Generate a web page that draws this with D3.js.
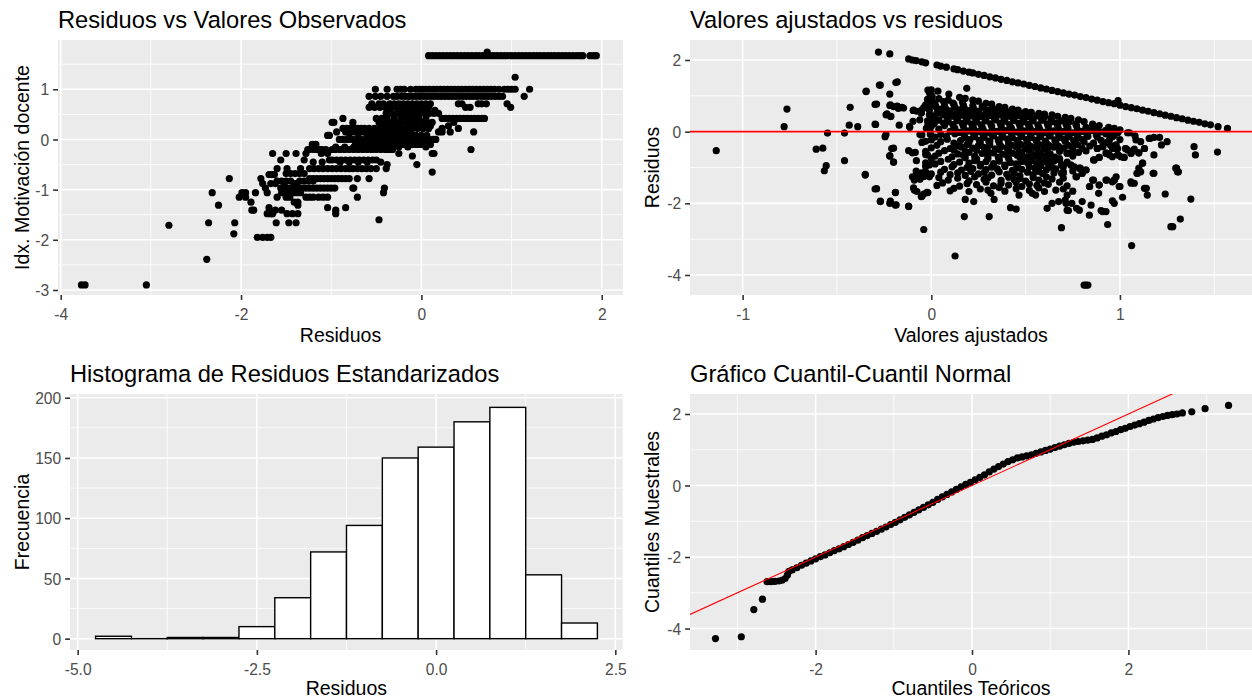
<!DOCTYPE html>
<html>
<head>
<meta charset="utf-8">
<script src="https://cdn.jsdelivr.net/npm/d3@7"></script>
<style>
  body { margin: 0; background: #fff; }
  text { font-family: "Liberation Sans", Arial, sans-serif; }
</style>
</head>
<body>
<div id="chart"></div>
<script>
// ---------- Panel 1: residuos vs valores observados ----------
// observed index levels and the residuals seen on each level
var motivLevels = [1.74, 1.67, 1.24, 1.0, 0.86, 0.71, 0.64, 0.58, 0.52, 0.42, 0.34, 0.27, 0.22, 0.15, 0.08, 0.04, 0.0,
  -0.1, -0.15, -0.2, -0.28, -0.33, -0.41, -0.45, -0.5, -0.58, -0.65, -0.68, -0.7, -0.78, -0.83, -0.88, -0.97, -1.06, -1.15, -1.25,
  -1.31, -1.36, -1.41, -1.48, -1.6, -1.66, -1.71, -1.88, -1.95, -2.39, -2.9];
var residByLevel = [
  [0.73],
  [0.08,0.12,0.16,0.2,0.24,0.28,0.32,0.36,0.4,0.44,0.48,0.52,0.56,0.6,0.64,0.68,0.72,0.76,0.8,0.84,0.88,0.92,0.96,1.0,1.04,1.08,1.12,1.16,1.2,1.24,1.28,1.32,1.36,1.4,1.44,1.48,1.52,1.56,1.6,1.64,1.68,1.72,1.76,1.79,1.87,1.91,1.94],
  [1.04],
  [-0.51,-0.38,-0.27,-0.23,-0.19,-0.12,-0.06,-0.02,0.01,0.05,0.09,0.13,0.17,0.21,0.25,0.29,0.33,0.37,0.41,0.45,0.49,0.53,0.57,0.61,0.65,0.69,0.73,0.77,0.81,0.86,0.92,0.96,1.0,1.04,1.2],
  [-0.58,-0.51,-0.45,-0.38,-0.31,-0.27,-0.22,-0.18,-0.14,-0.1,-0.06,-0.02,0.02,0.06,0.1,0.14,0.18,0.22,0.26,0.3,0.34,0.38,0.42,0.46,0.5,0.54,0.58,0.62,0.66,0.7,0.74,0.78,0.82,0.86,0.9,1.14],
  [-0.55,-0.47,-0.42,-0.35,-0.3,-0.25,-0.2,-0.15,-0.1,-0.05,0.0,0.05,0.1,0.41,0.45,0.63,0.67,0.72,0.95],
  [-0.58,-0.52,-0.46,-0.4,-0.34,-0.28,-0.22,-0.16,-0.1,-0.04,0.02,0.08,0.49,0.54,0.99],
  [-0.35,-0.25,-0.15,-0.05,0.05,0.15],
  [-0.39,-0.33,-0.27,-0.21,-0.16,-0.11,-0.06,-0.01,0.04,0.09,0.14,0.19],
  [-0.87,-0.5,-0.44,-0.38,-0.3,-0.22,-0.16,-0.1,-0.03,0.05,0.23,0.27,0.31,0.35,0.39,0.43,0.47,0.51,0.55,0.59,0.63,0.67,0.7],
  [-0.99,-0.97,-0.76,-0.47,-0.42,-0.36,-0.3,-0.24,-0.18,-0.12,-0.06,0.0,0.06,0.12,0.36],
  [-0.45,-0.35,-0.25,-0.15,-0.05,0.05,0.1,0.3],
  [-0.87,-0.83,-0.79,-0.75,-0.71,-0.67,-0.63,-0.58,-0.52,-0.46,-0.4,-0.34,-0.28,-0.22,-0.16,-0.1,-0.04,0.02,0.08,0.23,0.41],
  [-0.94,-0.84,-0.79,-0.74,-0.69,-0.64,-0.59,-0.54,-0.48,-0.42,-0.36,-0.3,-0.24,-0.18,-0.12,0.19,0.23,0.32,0.58],
  [-1.04,-1.02,-0.6,-0.54,-0.48,-0.42,-0.36,-0.3,-0.24,-0.18,-0.12,-0.06,0.0,0.06],
  [-0.8,-0.7,-0.5,-0.4,-0.2,-0.1],
  [-0.91,-0.87,-0.82,-0.77,-0.72,-0.67,-0.62,-0.57,-0.52,-0.47,-0.42,-0.37,-0.32,-0.27,-0.22,-0.17,-0.12,-0.07,-0.02,0.03,0.08,0.13,0.16],
  [-1.21,-1.17,-0.73,-0.68,-0.63,-0.58,-0.53,-0.48,-0.43,-0.38,-0.33,-0.28,-0.22,-0.18,-0.14,-0.1,-0.06,-0.02,0.02,0.06,0.1],
  [-0.95,-0.85,-0.75,-0.65,-0.55,-0.45,-0.35,-0.25,-0.15,0.05],
  [-1.26,-1.24,-1.19,-1.15,-1.13,-1.1,-1.06,-0.99,-0.95,-0.9,-0.85,-0.8,-0.75,-0.7,-0.65,-0.6,-0.55,-0.5,-0.45,-0.4,-0.36,-0.32,0.55],
  [-1.65,-1.5,-1.39,-1.28,-1.11,-1.04,-0.25,0.12,0.14],
  [-0.1],
  [-1.56,-1.3,-1.02,-0.99,-0.94,-0.89,-0.84,-0.79,-0.74,-0.69,-0.64,-0.59,-0.54,-0.5],
  [-1.2,-1.1,-0.9,-0.8,-0.7,-0.6,-0.45],
  [-0.38,-0.05],
  [-1.6,-1.49,-1.34,-1.24,-1.19,-1.14,-1.09,-1.04,-0.99,-0.94,-0.89,-0.84,-0.8,-0.76,-0.71,-0.66,-0.61,-0.56,-0.5,-0.39],
  [0.12],
  [-1.5,-1.45,-1.4,-1.35,-1.3],
  [-1.69,-1.66,-1.63],
  [-2.13,-1.78,-1.24,-1.2,-1.16,-1.12,-1.08,-1.04,-1.0,-0.96,-0.92,-0.88,-0.84,-0.8,-0.71,-0.58],
  [-1.6,-1.55,-1.5,-1.45,-1.35,-1.3,-1.25,-1.2],
  [-1.76,-1.67,-1.62,-1.52,-1.41,-1.38],
  [-1.73,-1.56,-1.52,-1.48,-1.44,-1.4,-1.36,-1.32,-1.28,-1.24,-1.2,-1.16,-1.12,-1.08,-1.04,-1.0,-0.96,-0.76,-0.75,-0.41],
  [-2.32,-1.99,-1.95,-1.84,-1.71,-1.55,-1.5,-1.45,-1.42,-1.38,-1.34,-0.42],
  [-2.02,-1.95,-1.6,-1.5,-1.46,-1.28,-1.24,-1.2,-1.14,-1.09,-1.04,-0.71],
  [-1.89,-1.41,-1.37],
  [-2.25,-1.37],
  [-1.69,-1.04,-0.84],
  [-1.88,-1.86,-1.62,-1.55,-0.95],
  [-1.71,-1.67,-1.65,-1.49,-1.43,-1.37,-0.95],
  [-0.47],
  [-2.36,-2.07,-1.61,-1.47,-1.39],
  [-2.8],
  [-2.08],
  [-1.82,-1.76,-1.71,-1.67],
  [-2.38],
  [-3.77,-3.73,-3.05]
];

// ---------- Panel 2: valores ajustados vs residuos ----------
// [ajustado, residuo]
var fitTopBand = [[-0.12,2.03],[-0.1,2.0],[-0.08,1.98],[-0.05,1.95],[-0.03,1.92],[0.03,1.86],[0.05,1.83],[0.08,1.8],
  [0.12,1.75],[0.14,1.73],[0.17,1.69],[0.2,1.66],[0.22,1.64],[0.25,1.6],[0.28,1.57],[0.31,1.53],[0.34,1.5],
  [0.37,1.46],[0.4,1.43],[0.43,1.39],[0.46,1.36],[0.49,1.33],[0.52,1.29],[0.55,1.26],[0.58,1.22],[0.61,1.19],
  [0.64,1.15],[0.67,1.12],[0.7,1.08],[0.73,1.05],[0.76,1.02],[0.79,0.98],[0.82,0.95],[0.85,0.91],[0.88,0.88],
  [0.91,0.84],[0.94,0.81],[0.97,0.78],[0.99,0.87],[1.0,0.74],[1.03,0.7],[1.06,0.67],[1.09,0.64],[1.12,0.6],
  [1.15,0.57],[1.18,0.53],[1.21,0.5],[1.24,0.46],[1.27,0.43],[1.3,0.39],[1.33,0.36],[1.36,0.32],[1.39,0.29],
  [1.42,0.26],[1.45,0.22],[1.48,0.19],[1.52,0.14],[1.57,0.09],[-0.28,2.22],[-0.22,2.17]];
var fitSecondBand = [[-0.018,1.16],[-0.009,1.07],[0.035,1.13],[0.093,1.05],[0.188,1.21],[0.15,0.96],[0.18,0.93],
  [0.22,0.88],[0.25,0.85],[0.29,0.79],[0.32,0.77],[0.36,0.7],[0.39,0.68],[0.43,0.63],[0.46,0.6],[0.5,0.56],
  [0.53,0.54],[0.57,0.51],[0.6,0.49],[0.64,0.47],[0.67,0.43],[0.71,0.4],[0.74,0.37],[0.78,0.33],[0.81,0.28],
  [0.855,0.21],[0.89,0.17],[0.94,0.12],[0.97,0.09],[1.0,0.05],[1.04,-0.03]];
var fitCloud = [
  [-0.02,0.9],[0.04,0.92],[0.09,0.88],
  [-0.03,0.75],[0.02,0.77],[0.07,0.73],[0.12,0.76],[0.17,0.74],[0.22,0.72],[0.27,0.7],
  [-0.01,0.6],[0.05,0.62],[0.1,0.58],[0.15,0.61],[0.2,0.59],[0.25,0.57],[0.3,0.6],[0.35,0.58],[0.4,0.56],[0.45,0.53],
  [0.0,0.45],[0.06,0.47],[0.11,0.43],[0.16,0.46],[0.21,0.44],[0.26,0.42],[0.31,0.45],[0.36,0.47],[0.41,0.43],[0.46,0.45],[0.51,0.42],[0.56,0.44],[0.6,0.41],
  [-0.02,0.3],[0.04,0.32],[0.09,0.28],[0.14,0.31],[0.19,0.29],[0.24,0.27],[0.29,0.3],[0.34,0.33],[0.39,0.29],[0.44,0.31],[0.49,0.28],[0.54,0.3],[0.59,0.32],[0.64,0.28],[0.69,0.3],[0.73,0.27],
  [0.0,0.15],[0.07,0.17],[0.12,0.13],[0.17,0.16],[0.22,0.14],[0.27,0.12],[0.32,0.15],[0.37,0.17],[0.42,0.13],[0.47,0.16],[0.52,0.14],[0.57,0.12],[0.62,0.15],[0.67,0.17],[0.72,0.13],[0.77,0.16],[0.82,0.12],[0.87,0.1],
  [0.1,0.01],[0.15,-0.02],[0.2,0.02],[0.25,0.0],[0.3,-0.03],[0.35,0.01],[0.4,0.03],[0.45,-0.01],[0.5,0.02],[0.55,0.0],[0.6,-0.02],[0.65,0.02],[0.7,0.0],[0.75,-0.03],[0.8,0.01],[0.85,0.03],[0.9,-0.01],[0.95,0.02],[0.99,-0.02],
  [0.02,-0.15],[0.08,-0.13],[0.18,-0.17],[0.23,-0.14],[0.28,-0.16],[0.33,-0.12],[0.38,-0.15],[0.43,-0.17],[0.48,-0.13],[0.53,-0.16],[0.58,-0.14],[0.63,-0.12],[0.68,-0.16],[0.73,-0.14],[0.78,-0.17],[0.83,-0.13],[0.88,-0.15],[0.95,-0.14],[1.08,-0.12],[1.16,-0.19],[1.21,-0.16],
  [-0.05,-0.3],[0.05,-0.28],[0.12,-0.32],[0.2,-0.29],[0.26,-0.31],[0.31,-0.27],[0.36,-0.3],[0.41,-0.33],[0.46,-0.28],[0.51,-0.31],[0.56,-0.29],[0.61,-0.32],[0.66,-0.3],[0.71,-0.27],[0.76,-0.31],[0.81,-0.29],[0.86,-0.32],[0.93,-0.3],[1.11,-0.28],[1.25,-0.28],
  [0.0,-0.45],[0.1,-0.47],[0.16,-0.43],[0.22,-0.46],[0.28,-0.44],[0.34,-0.48],[0.4,-0.45],[0.45,-0.42],[0.5,-0.46],[0.55,-0.44],[0.6,-0.47],[0.65,-0.43],[0.7,-0.46],[0.75,-0.44],[0.8,-0.47],[0.88,-0.47],[0.91,-0.42],[0.98,-0.47],[1.03,-0.47],[1.13,-0.47],
  [-0.1,-0.59],[0.04,-0.6],[0.14,-0.62],[0.2,-0.58],[0.27,-0.61],[0.33,-0.59],[0.38,-0.63],[0.43,-0.6],[0.48,-0.57],[0.53,-0.61],[0.58,-0.59],[0.63,-0.62],[0.72,-0.6],[0.78,-0.58],[0.93,-0.6],[1.06,-0.6],[1.1,-0.59],
  [0.0,-0.75],[0.09,-0.77],[0.18,-0.73],[0.24,-0.76],[0.3,-0.74],[0.36,-0.78],[0.41,-0.75],[0.47,-0.72],[0.52,-0.76],[0.57,-0.74],[0.62,-0.77],[0.68,-0.75],[0.86,-0.79],[0.89,-0.72],[0.99,-0.65],[1.02,-0.72],
  [-0.2,-0.85],[0.02,-0.9],[0.12,-0.92],[0.2,-0.88],[0.26,-0.91],[0.33,-0.89],[0.39,-0.93],[0.45,-0.9],[0.51,-0.87],[0.56,-0.91],[0.62,-0.89],[0.69,-0.93],[0.74,-0.93],[1.12,-0.88],
  [0.07,-1.05],[0.16,-1.07],[0.22,-1.03],[0.29,-1.06],[0.35,-1.04],[0.43,-1.08],[0.48,-1.05],[0.55,-1.02],[0.61,-1.06],[0.66,-1.04],[0.82,-1.07],[0.79,-1.02],[1.1,-1.02],[1.3,-1.02],
  [-0.08,-1.2],[-0.04,-1.25],[0.0,-1.18],[0.1,-1.2],[0.18,-1.22],[0.25,-1.18],[0.32,-1.21],[0.4,-1.19],[0.47,-1.23],[0.54,-1.2],[0.59,-1.17],[0.7,-1.16],[0.8,-1.16],[1.09,-1.16],[1.18,-1.16],[1.31,-1.12],
  [-0.06,-1.33],[0.09,-1.35],[0.2,-1.37],[0.28,-1.33],[0.37,-1.36],[0.44,-1.34],[0.5,-1.38],[0.57,-1.35],[0.64,-1.32],[0.77,-1.26],[0.86,-1.35],[0.93,-1.35],[0.97,-1.35],
  [0.03,-1.5],[0.15,-1.52],[0.24,-1.48],[0.33,-1.51],[0.41,-1.49],[0.48,-1.53],[0.56,-1.5],[0.62,-1.47],[0.72,-1.51],[0.84,-1.53],[0.89,-1.49],[1.0,-1.53],[1.06,-1.44],[1.14,-1.58],
  [-0.09,-1.63],[0.1,-1.65],[0.2,-1.67],[0.3,-1.63],[0.39,-1.66],[0.52,-1.64],[0.6,-1.67],[0.66,-1.63],[0.75,-1.66]
];
var fitCloudFill = [
  [0.01,0.82],[0.065,0.84],[0.115,0.8],[0.165,0.83],
  [-0.04,0.67],[0.025,0.69],[0.075,0.65],[0.125,0.68],[0.175,0.66],[0.225,0.64],[0.275,0.68],[0.325,0.66],[0.375,0.64],
  [0.03,0.52],[0.08,0.54],[0.13,0.5],[0.185,0.53],[0.235,0.51],[0.285,0.49],[0.335,0.52],[0.385,0.54],[0.435,0.5],[0.485,0.52],
  [0.02,0.37],[0.085,0.39],[0.135,0.35],[0.185,0.38],[0.235,0.36],[0.285,0.34],[0.335,0.37],[0.385,0.39],[0.435,0.35],[0.485,0.38],[0.535,0.36],[0.585,0.34],[0.635,0.37],
  [0.015,0.22],[0.065,0.24],[0.115,0.2],[0.165,0.23],[0.215,0.21],[0.265,0.19],[0.315,0.22],[0.365,0.24],[0.415,0.2],[0.465,0.23],[0.515,0.21],[0.565,0.19],[0.615,0.22],[0.665,0.24],[0.715,0.2],[0.765,0.22],
  [0.04,0.07],[0.125,0.09],[0.175,0.05],[0.225,0.08],[0.275,0.06],[0.325,0.04],[0.375,0.07],[0.425,0.09],[0.475,0.05],[0.525,0.08],[0.575,0.06],[0.625,0.04],[0.675,0.07],[0.725,0.09],[0.775,0.05],[0.825,0.08],[0.875,0.06],[0.925,0.04],
  [0.05,-0.08],[0.125,-0.06],[0.175,-0.1],[0.225,-0.07],[0.275,-0.09],[0.325,-0.11],[0.375,-0.08],[0.425,-0.06],[0.475,-0.1],[0.525,-0.07],[0.575,-0.09],[0.625,-0.11],[0.675,-0.08],[0.725,-0.06],[0.775,-0.1],[0.825,-0.07],[0.875,-0.09],[0.925,-0.06],[0.97,-0.1],
  [0.0,-0.23],[0.085,-0.21],[0.155,-0.25],[0.205,-0.22],[0.255,-0.24],[0.305,-0.26],[0.355,-0.23],[0.405,-0.21],[0.455,-0.25],[0.505,-0.22],[0.555,-0.24],[0.605,-0.26],[0.655,-0.23],[0.705,-0.21],[0.755,-0.25],[0.805,-0.22],[0.9,-0.24],[1.0,-0.22],
  [0.03,-0.38],[0.135,-0.4],[0.19,-0.36],[0.25,-0.39],[0.31,-0.37],[0.37,-0.41],[0.425,-0.38],[0.475,-0.36],[0.525,-0.4],[0.575,-0.37],[0.625,-0.39],[0.675,-0.41],[0.725,-0.38],[0.775,-0.36],[0.84,-0.4],[0.95,-0.38],
  [0.07,-0.53],[0.12,-0.51],[0.18,-0.55],[0.24,-0.52],[0.3,-0.54],[0.36,-0.5],[0.41,-0.53],[0.465,-0.55],[0.515,-0.51],[0.565,-0.54],[0.615,-0.52],[0.68,-0.55],[0.75,-0.52],[0.82,-0.54],
  [0.02,-0.68],[0.11,-0.7],[0.17,-0.66],[0.23,-0.69],[0.3,-0.67],[0.355,-0.71],[0.405,-0.68],[0.455,-0.66],[0.505,-0.7],[0.555,-0.67],[0.605,-0.69],[0.655,-0.71],[0.75,-0.68],
  [0.05,-0.83],[0.15,-0.85],[0.23,-0.81],[0.29,-0.84],[0.36,-0.82],[0.42,-0.86],[0.48,-0.83],[0.535,-0.81],[0.59,-0.85],[0.65,-0.82],[0.72,-0.85],
  [0.11,-0.98],[0.19,-1.0],[0.26,-0.96],[0.32,-0.99],[0.39,-0.97],[0.46,-1.01],[0.52,-0.98],[0.58,-0.96],[0.64,-1.0],[0.7,-0.98],
  [0.05,-1.13],[0.14,-1.15],[0.21,-1.11],[0.28,-1.14],[0.36,-1.12],[0.44,-1.16],[0.51,-1.13],[0.57,-1.11],[0.65,-1.15],[0.75,-1.1],
  [0.04,-1.28],[0.14,-1.3],[0.23,-1.26],[0.3,-1.29],[0.41,-1.27],[0.47,-1.31],[0.54,-1.28],[0.61,-1.26],[0.7,-1.3],
  [0.06,-1.43],[0.19,-1.45],[0.29,-1.41],[0.37,-1.44],[0.45,-1.42],[0.52,-1.46],[0.6,-1.43],[0.68,-1.41],
  [0.12,-1.58],[0.26,-1.6],[0.36,-1.56],[0.45,-1.59],[0.57,-1.57],[0.7,-1.6]
];
var fitScatter = [
  [-1.14,-0.53],[-0.78,0.14],[-0.765,0.63],[-0.61,-0.49],[-0.575,-0.46],[-0.55,-0.04],[-0.567,-1.09],[-0.557,-0.95],
  [-0.46,-0.04],[-0.46,-0.81],[-0.43,0.68],[-0.435,0.18],[-0.39,0.14],[-0.35,-1.19],[-0.345,1.13],[-0.295,0.2],
  [-0.29,0.77],[-0.27,1.3],[-0.29,-1.59],[-0.27,-1.94],[-0.24,-0.08],[-0.22,1.05],[-0.217,0.75],[-0.22,-0.67],
  [-0.235,0.5],[-0.214,0.43],[-0.217,-1.94],[-0.2,-0.46],[-0.2,-0.85],[-0.19,-1.69],[-0.186,-2.04],[-0.18,1.39],
  [-0.18,0.71],[-0.155,0.68],[-0.147,0.66],[-0.17,0.18],[-0.12,-2.08],[-0.12,-0.53],[-0.085,-0.58],[-0.115,0.15],
  [-0.097,0.29],[-0.094,0.6],[-0.076,0.57],[-0.053,0.52],[-0.05,0.61],[-0.094,-1.57],[-0.076,-1.67],[-0.08,-1.1],
  [-0.07,-1.2],[-0.06,-1.25],[-0.05,-1.15],[-0.05,-1.8],[-0.04,-1.74],[-0.04,-2.73],[-0.023,-1.69],[-0.06,-0.08],
  [-0.03,-0.27],[-0.03,-0.55],[-0.03,-0.64],[-0.03,-0.87],[-0.03,-0.97],[-0.01,0.2],[-0.01,0.1],[-0.005,0.0],
  [-0.005,-0.08],[0.0,1.03],[0.0,1.17],[0.005,0.98],[0.0,0.75],[0.0,0.8],
  [-0.35,-1.21],[-0.298,-1.6],[-0.27,-1.95],[-0.22,-2.0],[-0.19,-2.05],[-0.19,-1.7],[-0.12,-2.09],
  [-0.298,0.21],[-0.298,0.76],[-0.24,0.47],[-0.216,0.42],[-0.22,0.73],[-0.275,1.3],[-0.346,1.12],[-0.188,1.37],
  [-0.2,0.7],[-0.175,0.65],[-0.114,0.12],[-0.096,0.59],[-0.053,0.53],[-0.061,0.33],[-0.026,0.09],[-0.018,0.19],
  [0.0,0.93],[-0.01,0.47],[0.0,0.33],[-0.05,-0.09],[-0.02,-0.65],[-0.01,-0.93],[-0.03,-1.12],[-0.01,-1.26],
  [-0.1,-1.26],[-0.09,-1.35],[-0.245,-0.14],[-0.21,-0.47],[-0.22,-0.68],[-0.079,-0.81],
  [-0.053,-1.81],[-0.018,-1.7],[0.316,-1.72],[0.333,-1.89],[0.18,-1.89],[0.225,-1.95],[0.42,-2.12],[0.45,-2.16],
  [0.465,-1.77],[0.535,-1.72],[0.553,-1.77],[0.614,-2.14],[0.64,-2.0],[0.675,-1.95],[0.71,-1.91],[0.72,-2.19],
  [0.745,-2.0],[0.77,-2.14],[0.72,-1.77],[0.887,-1.72],[1.014,-1.83],[0.97,-2.0],[0.96,-1.93],[0.847,-2.05],
  [0.8,-1.95],[0.714,-2.0],[0.727,-2.2],[0.785,-2.19],[0.838,-2.33],[0.9,-2.2],[0.908,-2.23],[0.926,-2.23],
  [0.935,-2.59],[0.69,-2.68],[1.145,-1.77],[1.24,-1.74],[1.376,-1.88],[1.32,-2.44],[1.27,-2.65],[1.28,-2.65],
  [1.062,-3.18],[0.81,-4.28],[0.82,-4.28],[0.83,-4.28],[0.126,-3.47],[0.175,-2.37],[0.307,-2.37],
  [1.05,-0.03],[1.085,-0.23],[1.155,-0.19],[1.18,-0.16],[1.22,-0.37],[1.04,-0.51],[1.076,-0.49],[1.1,-0.59],
  [1.13,-0.47],[1.12,-0.88],[1.11,-1.12],[1.093,-1.16],[1.076,-1.44],[1.058,-1.4],[1.13,-1.58],[1.18,-0.65],
  [1.176,-1.16],[1.296,-1.02],[1.305,-1.12],[1.393,-0.42],[1.4,-0.65],[1.517,-0.57],[0.996,-1.53],[0.97,-1.35],
  [0.98,-1.26],[0.96,-1.4],[0.926,-1.35],[0.89,-1.49],[0.855,-1.35],[0.838,-1.53],[0.767,-1.26],[0.8,-1.16],
  [0.82,-1.07],[0.785,-1.02],[0.758,-0.98],[0.74,-0.93],[0.697,-0.93],[0.69,-1.16],[0.7,-1.12],[0.68,-0.79],
  [0.72,-0.6],[0.864,-0.79],[0.89,-0.72],[0.926,-0.6],[0.944,-0.65],[0.96,-0.7],[0.988,-0.65],[1.005,-0.7],
  [1.023,-0.72],[0.88,-0.47],[0.908,-0.42],[0.96,-0.47],[0.988,-0.47],[0.944,-0.23],[0.96,-0.14],[0.98,-0.37],
  [1.03,-0.47],[1.058,-0.6]
];
var zeroLine = 0;

// ---------- Panel 3: histograma ----------
var binEdges = [-4.75,-4.25,-3.75,-3.25,-2.75,-2.25,-1.75,-1.25,-0.75,-0.25,0.25,0.75,1.25,1.75,2.25];
var binCounts = [2,0,1,1,10,34,72,94,150,159,180,192,53,13];

// ---------- Panel 4: Q-Q normal ----------
// [cuantil teorico, cuantil muestral]
var qqPoints = [
  [-3.28,-4.28],[-2.95,-4.23],[-2.79,-3.47],[-2.68,-3.18],
  [-2.62,-2.69],[-2.57,-2.69],[-2.52,-2.68],[-2.47,-2.67],[-2.43,-2.65],[-2.39,-2.6],[-2.36,-2.5],[-2.34,-2.4],[-2.3,-2.36],
  [-2.24,-2.3],[-2.18,-2.23],[-2.12,-2.17],[-2.06,-2.11],[-2.0,-2.05],[-1.94,-1.99],[-1.88,-1.94],[-1.82,-1.88],
  [-1.76,-1.82],[-1.7,-1.77],[-1.64,-1.71],[-1.58,-1.65],[-1.52,-1.59],[-1.46,-1.53],[-1.4,-1.46],[-1.34,-1.4],
  [-1.28,-1.34],[-1.22,-1.28],[-1.16,-1.22],[-1.1,-1.16],[-1.04,-1.09],[-0.98,-1.03],[-0.92,-0.96],[-0.86,-0.89],
  [-0.8,-0.82],[-0.74,-0.75],[-0.68,-0.68],[-0.62,-0.61],[-0.56,-0.54],[-0.5,-0.47],[-0.44,-0.39],[-0.38,-0.32],
  [-0.32,-0.25],[-0.26,-0.18],[-0.2,-0.11],[-0.14,-0.04],[-0.08,0.03],[-0.02,0.09],[0.04,0.16],[0.1,0.23],
  [0.16,0.3],[0.22,0.38],[0.28,0.46],[0.34,0.53],[0.4,0.6],[0.46,0.67],[0.52,0.72],[0.58,0.77],[0.64,0.8],
  [0.7,0.83],[0.76,0.86],[0.82,0.9],[0.88,0.94],[0.94,0.98],[1.0,1.02],[1.06,1.06],[1.12,1.1],[1.18,1.14],
  [1.24,1.18],[1.3,1.21],[1.36,1.23],[1.42,1.25],[1.48,1.27],[1.54,1.29],[1.6,1.33],[1.66,1.38],[1.72,1.42],
  [1.78,1.47],[1.84,1.51],[1.9,1.56],[1.96,1.6],[2.02,1.65],[2.08,1.69],[2.14,1.73],[2.2,1.77],[2.26,1.82],
  [2.32,1.86],[2.38,1.9],[2.44,1.93],[2.5,1.96],[2.56,1.98],[2.62,2.0],[2.69,2.03],[2.81,2.06],[2.98,2.15],[3.28,2.24]
];
var qqIntercept = 0, qqSlope = 1;

// ---------- tick values / labels ----------
var p1XTicks = [-4, -2, 0, 2], p1XLabels = ["-4", "-2", "0", "2"];
var p1YTicks = [-3, -2, -1, 0, 1], p1YLabels = ["-3", "-2", "-1", "0", "1"];
var p2XTicks = [-1, 0, 1], p2XLabels = ["-1", "0", "1"];
var p2YTicks = [-4, -2, 0, 2], p2YLabels = ["-4", "-2", "0", "2"];
var p3XTicks = [-5, -2.5, 0, 2.5], p3XLabels = ["-5.0", "-2.5", "0.0", "2.5"];
var p3YTicks = [0, 50, 100, 150, 200], p3YLabels = ["0", "50", "100", "150", "200"];
var p4XTicks = [-2, 0, 2], p4XLabels = ["-2", "0", "2"];
var p4YTicks = [-4, -2, 0, 2], p4YLabels = ["-4", "-2", "0", "2"];

var svg = d3.select("#chart").append("svg")
    .attr("width", 1252)
    .attr("height", 700);
svg.append("rect").attr("width", 1252).attr("height", 700).attr("fill", "#fff");
var defs = svg.append("defs");

// Draws the grey panel, grid, axes and titles. Returns scales and a clipped group.
function makePanel(p) {
  var x = d3.scaleLinear().domain(p.xDomain).range([p.left, p.right]);
  var y = d3.scaleLinear().domain(p.yDomain).range([p.bottom, p.top]);
  var g = svg.append("g");

  g.append("rect")
      .attr("x", p.left).attr("y", p.top)
      .attr("width", p.right - p.left).attr("height", p.bottom - p.top)
      .attr("fill", "#EBEBEB");

  // grid lines
  function vLines(vals, w) {
    g.selectAll(null).data(vals).enter().append("line")
        .attr("x1", function(d) { return x(d); }).attr("x2", function(d) { return x(d); })
        .attr("y1", p.top).attr("y2", p.bottom)
        .attr("stroke", "#fff").attr("stroke-width", w);
  }
  function hLines(vals, w) {
    g.selectAll(null).data(vals).enter().append("line")
        .attr("y1", function(d) { return y(d); }).attr("y2", function(d) { return y(d); })
        .attr("x1", p.left).attr("x2", p.right)
        .attr("stroke", "#fff").attr("stroke-width", w);
  }
  vLines(p.xMinor, 0.8); hLines(p.yMinor, 0.8);
  vLines(p.xTicks, 1.6); hLines(p.yTicks, 1.6);

  defs.append("clipPath").attr("id", p.id).append("rect")
      .attr("x", p.left).attr("y", p.top)
      .attr("width", p.right - p.left).attr("height", p.bottom - p.top);
  var plot = g.append("g").attr("clip-path", "url(#" + p.id + ")");

  // x axis
  var xa = g.append("g")
      .attr("transform", "translate(0," + p.bottom + ")")
      .call(d3.axisBottom(x).tickValues(p.xTicks)
        .tickFormat(function(d, i) { return p.xLabels[i]; })
        .tickSize(4.9));
  xa.select(".domain").remove();
  xa.attr("font-family", null).attr("font-size", null);
  xa.selectAll("line").attr("stroke", "#333").attr("stroke-width", 1.6);
  xa.selectAll("text").attr("y", 25).attr("dy", null)
      .attr("fill", "#4D4D4D").style("font-size", "15.6px");

  // y axis
  var ya = g.append("g")
      .attr("transform", "translate(" + p.left + ",0)")
      .call(d3.axisLeft(y).tickValues(p.yTicks)
        .tickFormat(function(d, i) { return p.yLabels[i]; })
        .tickSize(4.9).tickPadding(3.9));
  ya.select(".domain").remove();
  ya.attr("font-family", null).attr("font-size", null);
  ya.selectAll("line").attr("stroke", "#333").attr("stroke-width", 1.6);
  ya.selectAll("text").attr("dy", "0.36em")
      .attr("fill", "#4D4D4D").style("font-size", "15.6px");

  // titles
  g.append("text")
      .attr("x", p.left).attr("y", p.titleY)
      .style("font-size", "23.7px").attr("fill", "#000")
      .text(p.title);
  g.append("text")
      .attr("x", (p.left + p.right) / 2).attr("y", p.xTitleY)
      .attr("text-anchor", "middle")
      .style("font-size", "19.5px").attr("fill", "#000")
      .text(p.xTitle);
  g.append("text")
      .attr("transform", "translate(" + p.yTitleX + "," + ((p.top + p.bottom) / 2) + ") rotate(-90)")
      .attr("text-anchor", "middle")
      .style("font-size", "19.5px").attr("fill", "#000")
      .text(p.yTitle);

  return {x: x, y: y, plot: plot};
}

function drawPoints(panel, data) {
  panel.plot.selectAll(null)
      .data(data)
    .enter().append("circle")
      .attr("cx", function(d) { return panel.x(d[0]); })
      .attr("cy", function(d) { return panel.y(d[1]); })
      .attr("r", 3.6)
      .attr("fill", "#000");
}

// Panel 1
var p1 = makePanel({
  id: "clip1", left: 58, right: 623, top: 40, bottom: 295,
  xDomain: [-4.03, 2.236], yDomain: [-3.1, 1.982],
  xTicks: p1XTicks, xLabels: p1XLabels, xMinor: [-3, -1, 1],
  yTicks: p1YTicks, yLabels: p1YLabels, yMinor: [-2.5, -1.5, -0.5, 0.5, 1.5],
  title: "Residuos vs Valores Observados", titleY: 28,
  xTitle: "Residuos", xTitleY: 342,
  yTitle: "Idx. Motivación docente", yTitleX: 28.5
});
var obsPoints = [];
motivLevels.forEach(function(lvl, i) {
  residByLevel[i].forEach(function(r) { obsPoints.push([r, lvl]); });
});
drawPoints(p1, obsPoints);

// Panel 2
var p2 = makePanel({
  id: "clip2", left: 690, right: 1252, top: 40, bottom: 295,
  xDomain: [-1.279, 1.70], yDomain: [-4.558, 2.558],
  xTicks: p2XTicks, xLabels: p2XLabels, xMinor: [-0.5, 0.5, 1.5],
  yTicks: p2YTicks, yLabels: p2YLabels, yMinor: [-3, -1, 1],
  title: "Valores ajustados vs residuos", titleY: 28,
  xTitle: "Valores ajustados", xTitleY: 342,
  yTitle: "Residuos", yTitleX: 658.5
});
drawPoints(p2, fitTopBand.concat(fitSecondBand, fitCloud, fitCloudFill, fitScatter));
p2.plot.append("line")
    .attr("x1", 690).attr("x2", 1252)
    .attr("y1", p2.y(zeroLine)).attr("y2", p2.y(zeroLine))
    .attr("stroke", "#FF0000").attr("stroke-width", 1.6);

// Panel 3
var p3 = makePanel({
  id: "clip3", left: 70, right: 622.7, top: 394, bottom: 650,
  xDomain: [-5.107, 2.603], yDomain: [-9.4, 203.1],
  xTicks: p3XTicks, xLabels: p3XLabels, xMinor: [-3.75, -1.25, 1.25],
  yTicks: p3YTicks, yLabels: p3YLabels, yMinor: [25, 75, 125, 175],
  title: "Histograma de Residuos Estandarizados", titleY: 382,
  xTitle: "Residuos", xTitleY: 695,
  yTitle: "Frecuencia", yTitleX: 28.5
});
var bins = binCounts.map(function(c, i) { return {x0: binEdges[i], x1: binEdges[i + 1], n: c}; });
p3.plot.selectAll(".bar")
    .data(bins)
  .enter().append("rect")
    .attr("class", "bar")
    .attr("x", function(d) { return p3.x(d.x0); })
    .attr("width", function(d) { return p3.x(d.x1) - p3.x(d.x0); })
    .attr("y", function(d) { return p3.y(d.n); })
    // empty bins still show a flat outline at zero
    .attr("height", function(d) { return Math.max(p3.y(0) - p3.y(d.n), 0.01); })
    .attr("fill", "#fff")
    .attr("stroke", "#000")
    .attr("stroke-width", 1.4);

// Panel 4
var p4 = makePanel({
  id: "clip4", left: 690, right: 1252, top: 394, bottom: 650,
  xDomain: [-3.606, 3.58], yDomain: [-4.6, 2.559],
  xTicks: p4XTicks, xLabels: p4XLabels, xMinor: [-3, -1, 1, 3],
  yTicks: p4YTicks, yLabels: p4YLabels, yMinor: [-3, -1, 1],
  title: "Gráfico Cuantil-Cuantil Normal", titleY: 382,
  xTitle: "Cuantiles Teóricos", xTitleY: 695,
  yTitle: "Cuantiles Muestrales", yTitleX: 658.5
});
drawPoints(p4, qqPoints);
var qx = p4.x.domain();
p4.plot.append("line")
    .attr("x1", p4.x(qx[0])).attr("y1", p4.y(qqIntercept + qqSlope * qx[0]))
    .attr("x2", p4.x(qx[1])).attr("y2", p4.y(qqIntercept + qqSlope * qx[1]))
    .attr("stroke", "#FF0000").attr("stroke-width", 1.1);
</script>
</body>
</html>
